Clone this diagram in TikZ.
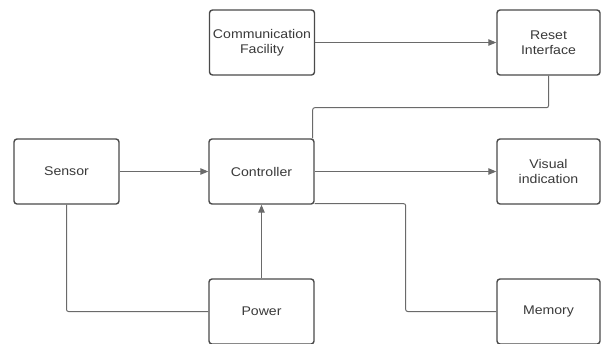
\documentclass[tikz,border=0pt]{standalone}
\usepackage{fontspec}
\setmainfont{Liberation Sans}[FakeStretch=1.12]
\usetikzlibrary{arrows.meta}
\definecolor{boxc}{HTML}{4A4A4A}
\definecolor{linec}{HTML}{6A6A6A}
\definecolor{txtc}{HTML}{3A3A3A}
\tikzset{
  blk/.style={draw=boxc, line width=1.4bp, rounded corners=3bp, fill=white,
    minimum width=105bp, minimum height=65bp, inner sep=0pt,
    align=center, text=txtc, font=\fontsize{12.6bp}{15bp}\selectfont},
  wblk/.style={blk, minimum width=103bp},
  conn/.style={draw=linec, line width=1bp},
  arr/.style={conn, -{Triangle[length=8bp,width=6.5bp]}}
}
\begin{document}
\begin{tikzpicture}[x=1bp,y=-1bp]
\useasboundingbox (0,0) rectangle (601,343);
\node[blk]  (com) at (262,42.5)    {Communication\\Facility};
\node[wblk] (rst) at (548.5,42.5)  {Reset\\Interface};
\node[blk]  (sen) at (66.5,171.5)  {Sensor};
\node[blk]  (ctl) at (261.5,171.5) {Controller};
\node[wblk] (vis) at (548.5,171.5) {Visual\\indication};
\node[blk]  (pwr) at (261.5,311.5) {Power};
\node[wblk] (mem) at (548.5,311.5) {Memory};
\draw[arr] (com) -- (rst);
\draw[conn, rounded corners=2bp] (rst.south) -- ++(0,32) -| ([xshift=-2bp]ctl.north east);
\draw[arr] (sen) -- (ctl);
\draw[arr] (ctl) -- (vis);
\draw[conn, rounded corners=2bp] ([yshift=1bp]ctl.south east) -- ++(91,0) |- (mem.west);
\draw[conn, rounded corners=2bp] (sen.south) |- (pwr.west);
\draw[arr] (pwr) -- (ctl);
\end{tikzpicture}
\end{document}
